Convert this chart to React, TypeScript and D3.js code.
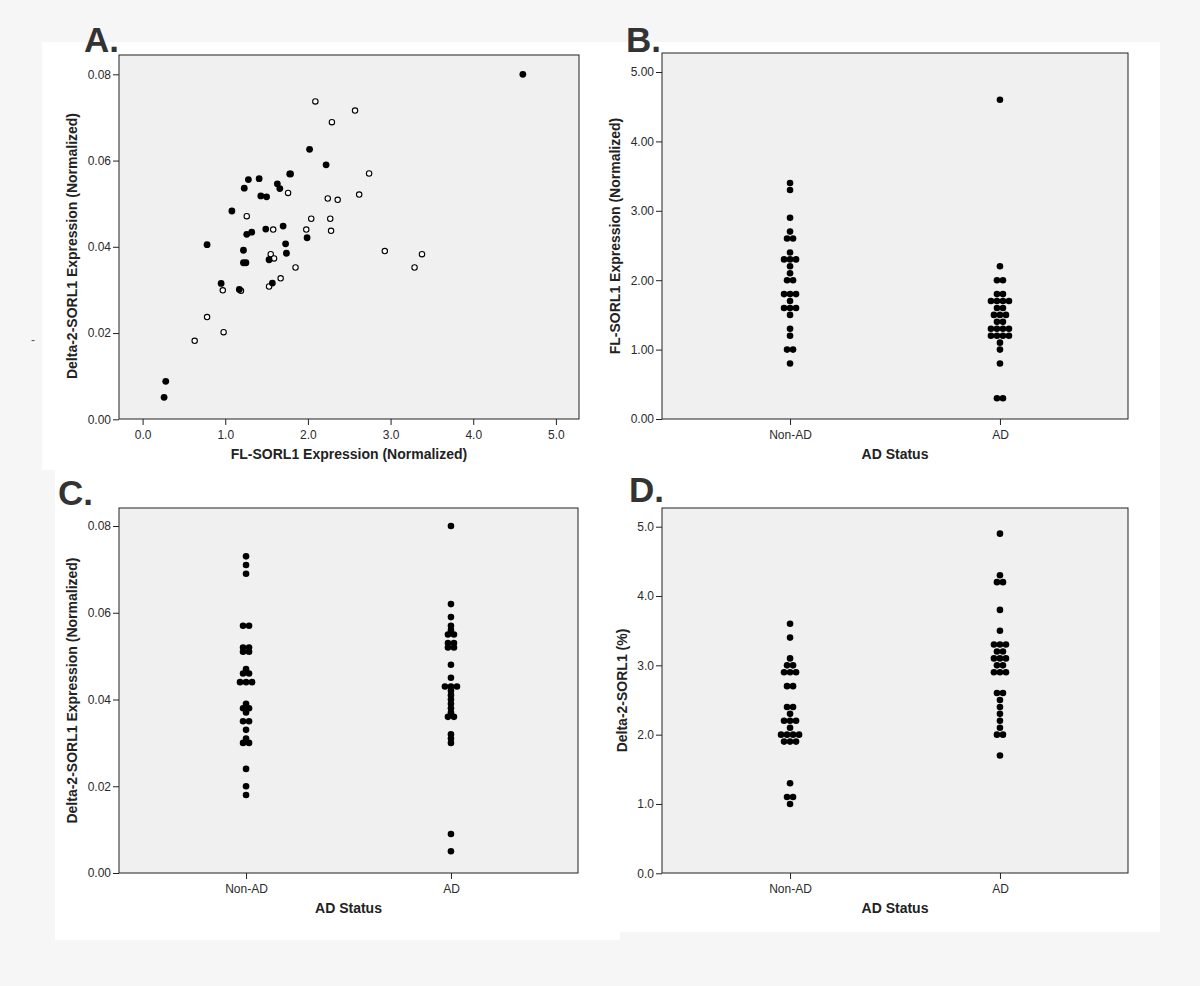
import React, { useEffect, useRef } from 'react';
import * as d3 from 'd3';

// Panel A: one point per sample. Filled = AD, open = Non-AD
const adFL = [4.60, 2.02, 2.22, 1.28, 1.41, 1.23, 1.63, 1.66, 1.78, 1.79, 1.43, 1.50, 1.08, 1.49, 1.70, 1.26, 1.32, 0.78, 1.22, 1.73, 1.74, 1.99, 1.22, 1.25, 1.53, 0.95, 1.17, 1.57, 0.28, 0.26];
const adDelta = [0.0800, 0.0626, 0.0590, 0.0556, 0.0558, 0.0536, 0.0546, 0.0535, 0.0569, 0.0569, 0.0518, 0.0516, 0.0483, 0.0441, 0.0448, 0.0429, 0.0434, 0.0405, 0.0392, 0.0407, 0.0385, 0.0421, 0.0363, 0.0363, 0.0370, 0.0315, 0.0301, 0.0316, 0.0088, 0.0051];
const nonAdFL = [2.09, 2.57, 2.29, 2.74, 1.76, 2.62, 2.24, 2.36, 1.26, 2.04, 2.27, 1.58, 1.98, 2.28, 2.93, 3.38, 1.55, 1.59, 1.85, 3.29, 1.67, 1.53, 0.97, 1.19, 0.78, 0.98, 0.63];
const nonAdDelta = [0.0737, 0.0716, 0.0689, 0.0570, 0.0525, 0.0521, 0.0512, 0.0509, 0.0471, 0.0465, 0.0465, 0.0440, 0.0440, 0.0437, 0.0390, 0.0383, 0.0383, 0.0373, 0.0352, 0.0352, 0.0327, 0.0308, 0.0299, 0.0298, 0.0237, 0.0202, 0.0182];

const statusLabels = ['Non-AD', 'AD'];

// Panel B: FL-SORL1 by AD status
const flNonAD = [3.4, 3.3, 2.9, 2.7, 2.6, 2.6, 2.4, 2.3, 2.3, 2.3, 2.2, 2.1, 2.0, 2.0, 1.8, 1.8, 1.8, 1.7, 1.6, 1.6, 1.6, 1.5, 1.3, 1.2, 1.0, 1.0, 0.8];
const flAD = [4.6, 2.2, 2.0, 2.0, 1.8, 1.8, 1.7, 1.7, 1.7, 1.7, 1.6, 1.6, 1.5, 1.5, 1.5, 1.4, 1.4, 1.3, 1.3, 1.3, 1.3, 1.2, 1.2, 1.2, 1.2, 1.1, 1.0, 0.8, 0.3, 0.3];

// Panel C: Delta-2-SORL1 by AD status
const deltaNonAD = [0.073, 0.071, 0.069, 0.057, 0.057, 0.052, 0.052, 0.051, 0.051, 0.047, 0.046, 0.046, 0.044, 0.044, 0.044, 0.039, 0.038, 0.038, 0.037, 0.035, 0.035, 0.033, 0.031, 0.030, 0.030, 0.024, 0.020, 0.018];
const deltaAD = [0.080, 0.062, 0.059, 0.057, 0.056, 0.055, 0.055, 0.053, 0.053, 0.052, 0.052, 0.048, 0.045, 0.043, 0.043, 0.043, 0.042, 0.041, 0.040, 0.039, 0.038, 0.037, 0.036, 0.036, 0.032, 0.031, 0.030, 0.009, 0.005];

// Panel D: Delta-2-SORL1 (%) by AD status
const pctNonAD = [3.6, 3.4, 3.1, 3.0, 3.0, 2.9, 2.9, 2.9, 2.7, 2.7, 2.4, 2.4, 2.3, 2.2, 2.2, 2.2, 2.1, 2.0, 2.0, 2.0, 2.0, 1.9, 1.9, 1.9, 1.3, 1.1, 1.1, 1.0];
const pctAD = [4.9, 4.3, 4.2, 4.2, 3.8, 3.5, 3.3, 3.3, 3.3, 3.2, 3.2, 3.1, 3.1, 3.1, 3.0, 3.0, 2.9, 2.9, 2.9, 2.6, 2.6, 2.5, 2.4, 2.3, 2.2, 2.1, 2.0, 2.0, 1.7];

const ticksAx = [0, 1, 2, 3, 4, 5];
const ticksAy = [0, 0.02, 0.04, 0.06, 0.08];
const ticksB = [0, 1, 2, 3, 4, 5];
const ticksC = [0, 0.02, 0.04, 0.06, 0.08];
const ticksD = [0, 1, 2, 3, 4, 5];

const FONT = '"Liberation Sans", Arial, sans-serif';
const INK = '#222';

type Frame = { left: number; top: number; right: number; bottom: number };

const App: React.FC = () => {
  const svgRef = useRef<SVGSVGElement>(null);

  useEffect(() => {
    if (!svgRef.current) return;
    const svg = d3.select(svgRef.current);
    svg.selectAll('*').remove();

    // page + white panel backgrounds
    svg.append('rect').attr('width', 1200).attr('height', 986).attr('fill', '#f6f6f6');
    const boxes = [
      [42, 42, 600, 470],
      [600, 42, 1160, 470],
      [55, 470, 620, 940],
      [620, 470, 1160, 932],
    ];
    boxes.forEach(([x0, y0, x1, y1]) => {
      svg.append('rect').attr('x', x0).attr('y', y0).attr('width', x1 - x0).attr('height', y1 - y0).attr('fill', '#fff');
    });

    svg.append('text').attr('x', 31).attr('y', 344).attr('font-size', 12)
      .attr('font-family', FONT).attr('fill', '#555').text('-');

    const plotBg = (f: Frame) => {
      svg.append('rect')
        .attr('x', f.left).attr('y', f.top)
        .attr('width', f.right - f.left).attr('height', f.bottom - f.top)
        .attr('fill', '#f0f0f0');
    };
    const plotBorder = (f: Frame) => {
      svg.append('rect')
        .attr('x', f.left).attr('y', f.top)
        .attr('width', f.right - f.left).attr('height', f.bottom - f.top)
        .attr('fill', 'none').attr('stroke', INK).attr('stroke-width', 1);
    };
    const styleAxis = (g: any) => {
      g.select('.domain').remove();
      g.selectAll('line').attr('stroke', INK);
      g.selectAll('text').attr('fill', '#2a2a2a').style('font-family', FONT).style('font-size', '12px');
    };
    const letter = (t: string, x: number, y: number) => {
      svg.append('text').attr('x', x).attr('y', y).text(t)
        .attr('font-family', FONT).attr('font-weight', 'bold').attr('font-size', 35).attr('fill', '#333');
    };
    const xTitle = (t: string, x: number, y: number) => {
      svg.append('text').attr('x', x).attr('y', y).text(t).attr('text-anchor', 'middle')
        .attr('font-family', FONT).attr('font-weight', 'bold').attr('font-size', 14).attr('fill', INK);
    };
    const yTitle = (t: string, x: number, y: number) => {
      svg.append('text').attr('transform', `translate(${x},${y}) rotate(-90)`).text(t).attr('text-anchor', 'middle')
        .attr('font-family', FONT).attr('font-weight', 'bold').attr('font-size', 14).attr('fill', INK);
    };

    // ---------- Panel A: scatter ----------
    const fA: Frame = { left: 119, top: 55, right: 579, bottom: 419 };
    const xA = d3.scaleLinear().domain([0, 5]).range([142.6, 555.9]);
    const yA = d3.scaleLinear().domain([0, 0.08]).range([419.3, 74.3]);
    plotBg(fA);
    const ptsOpen = nonAdFL.map((v, i) => ({ x: v, y: nonAdDelta[i] }));
    const ptsFilled = adFL.map((v, i) => ({ x: v, y: adDelta[i] }));
    svg.append('g').selectAll('circle').data(ptsOpen).join('circle')
      .attr('cx', d => xA(d.x)).attr('cy', d => yA(d.y)).attr('r', 2.7)
      .attr('fill', '#fff').attr('stroke', '#000').attr('stroke-width', 1.1);
    svg.append('g').selectAll('circle').data(ptsFilled).join('circle')
      .attr('cx', d => xA(d.x)).attr('cy', d => yA(d.y)).attr('r', 3.4)
      .attr('fill', '#000');
    plotBorder(fA);
    svg.append('g').attr('transform', `translate(0,${fA.bottom})`)
      .call(d3.axisBottom(xA).tickValues(ticksAx).tickFormat(d3.format('.1f')).tickSize(6).tickPadding(5))
      .call(styleAxis);
    svg.append('g').attr('transform', `translate(${fA.left},0)`)
      .call(d3.axisLeft(yA).tickValues(ticksAy).tickFormat(d3.format('.2f')).tickSize(6).tickPadding(2))
      .call(styleAxis);
    letter('A.', 84, 52);
    xTitle('FL-SORL1 Expression (Normalized)', 349, 459);
    yTitle('Delta-2-SORL1 Expression (Normalized)', 77, 246);

    // ---------- dot plots ----------
    const dotPlot = (
      f: Frame, padding: number, yDomain: [number, number], yRange: [number, number],
      ticks: number[], fmt: string, groups: number[][], precision: number,
      letterPos: [string, number, number], yLabel: string, yLabelX: number
    ) => {
      const x = d3.scalePoint<string>().domain(statusLabels).range([f.left, f.right]).padding(padding);
      const y = d3.scaleLinear().domain(yDomain).range(yRange);
      plotBg(f);
      const spacing = 6;
      groups.forEach((vals, gi) => {
        const counts = d3.rollup(vals, v => v.length, v => v.toFixed(precision));
        const seen = new Map<string, number>();
        const pts = vals.map(v => {
          const k = v.toFixed(precision);
          const n = counts.get(k) || 1;
          const i = seen.get(k) || 0;
          seen.set(k, i + 1);
          return { v, off: (i - (n - 1) / 2) * spacing };
        });
        svg.append('g').selectAll('circle').data(pts).join('circle')
          .attr('cx', d => (x(statusLabels[gi]) as number) + d.off)
          .attr('cy', d => y(d.v))
          .attr('r', 3.3).attr('fill', '#000');
      });
      plotBorder(f);
      svg.append('g').attr('transform', `translate(0,${f.bottom})`)
        .call(d3.axisBottom(x).tickSize(6).tickPadding(5))
        .call(styleAxis);
      svg.append('g').attr('transform', `translate(${f.left},0)`)
        .call(d3.axisLeft(y).tickValues(ticks).tickFormat(d3.format(fmt)).tickSize(6).tickPadding(2))
        .call(styleAxis);
      letter(letterPos[0], letterPos[1], letterPos[2]);
      xTitle('AD Status', (f.left + f.right) / 2, f.bottom + 40);
      yTitle(yLabel, yLabelX, (f.top + f.bottom) / 2);
    };

    dotPlot({ left: 662, top: 53, right: 1128, bottom: 419 }, 0.61, [0, 5], [419, 72], ticksB, '.2f',
      [flNonAD, flAD], 1, ['B.', 626, 52], 'FL-SORL1 Expression (Normalized)', 620);
    dotPlot({ left: 119, top: 508, right: 578, bottom: 873 }, 0.62, [0, 0.08], [873, 526], ticksC, '.2f',
      [deltaNonAD, deltaAD], 3, ['C.', 58, 505], 'Delta-2-SORL1 Expression (Normalized)', 77);
    dotPlot({ left: 662, top: 508, right: 1128, bottom: 873 }, 0.61, [0, 5], [873.3, 526.7], ticksD, '.1f',
      [pctNonAD, pctAD], 1, ['D.', 629, 502], 'Delta-2-SORL1 (%)', 627);
  }, []);

  return (
    <svg ref={svgRef} width={1200} height={986}
      style={{ position: 'absolute', left: 0, top: 0, display: 'block' }} />
  );
};

export default App;
